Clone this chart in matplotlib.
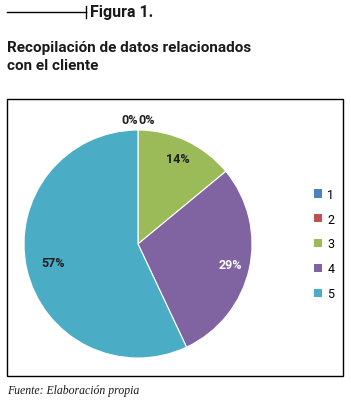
import numpy as np
import matplotlib
matplotlib.use("Agg")
from matplotlib import pyplot as plt
from matplotlib.patches import Rectangle
from matplotlib.lines import Line2D

# Données
categorias = ['1', '2', '3', '4', '5']
valores = [0, 0, 14, 29, 57]
colores = ['#4F81BD', '#C0504D', '#9BBB59', '#8064A2', '#4BACC6']
color_texto = ['#1F1F1F', '#1F1F1F', '#1F1F1F', 'white', '#1F1F1F']

titulo_fig = 'Figura 1.'
titulo = 'Recopilación de datos relacionados\ncon el cliente'
fuente = 'Fuente: Elaboración propia'

NARROW = ['Roboto', 'DejaVu Sans']

W, H = 351, 402
fig = plt.figure(figsize=(W / 100, H / 100), dpi=100)

def fx(px):
    return px / W

def fy(py):
    return 1 - py / H

# --- En-tête ---
fig.add_artist(Line2D([fx(7), fx(86)], [fy(13), fy(13)], color='black', lw=1.0))
fig.add_artist(Line2D([fx(86), fx(86)], [fy(7), fy(19)], color='black', lw=1.0))
fig.text(fx(90), fy(13), titulo_fig, family=NARROW, fontsize=11.5, fontweight='bold',
         ha='left', va='center', color='#1A1A1A')
fig.text(fx(7), fy(41), titulo, family=NARROW, fontsize=11, fontweight='bold',
         ha='left', va='top', color='#1A1A1A', linespacing=1.4)

# --- Cadre ---
fig.add_artist(Rectangle((fx(7), fy(377)), fx(343) - fx(7), fy(100) - fy(377),
                         transform=fig.transFigure, fill=False, edgecolor='black', lw=1.0))

# --- Camembert ---
cx, cy, r = 138, 245, 114
ax = fig.add_axes([fx(cx - r), fy(cy + r), fx(2 * r), fy(cy - r) - fy(cy + r)])
wedges, _ = ax.pie(valores, colors=colores, startangle=90, counterclock=False,
                   wedgeprops=dict(edgecolor='white', linewidth=0.8))
ax.set_xlim(-1, 1)
ax.set_ylim(-1, 1)
ax.set_aspect('equal')
ax.axis('off')

total = float(sum(valores))
for i, w in enumerate(wedges):
    pct = f'{valores[i] / total * 100:.0f}%'
    ang = np.deg2rad((w.theta1 + w.theta2) / 2)
    if valores[i] == 0:
        # étiquettes des parts nulles au-dessus du sommet
        ha = 'right' if i == 0 else 'left'
        ax.text(np.cos(ang) * 1.09, np.sin(ang) * 1.09, pct, ha=ha, va='center',
                family=NARROW, fontsize=9, fontweight='bold', color=color_texto[i])
    else:
        d = 0.83 if valores[i] < 50 else 0.76
        ax.text(np.cos(ang) * d, np.sin(ang) * d, pct, ha='center', va='center',
                family=NARROW, fontsize=9, fontweight='bold', color=color_texto[i])

# --- Légende ---
handles = [Rectangle((0, 0), 1, 1, facecolor=c, edgecolor='none') for c in colores]
leg = fig.legend(handles, categorias, loc='center left',
                 bbox_to_anchor=(fx(303), fy(245)), frameon=False,
                 prop=dict(family=NARROW, size=9), handlelength=0.65,
                 handleheight=0.65, handletextpad=0.4, labelspacing=0.95)

# --- Source ---
fig.text(fx(7), fy(391), fuente, family=['Liberation Serif', 'DejaVu Serif'],
         style='italic', fontsize=8.5, ha='left', va='center', color='#1A1A1A')

fig.savefig('out.png', dpi=100)
plt.close(fig)
